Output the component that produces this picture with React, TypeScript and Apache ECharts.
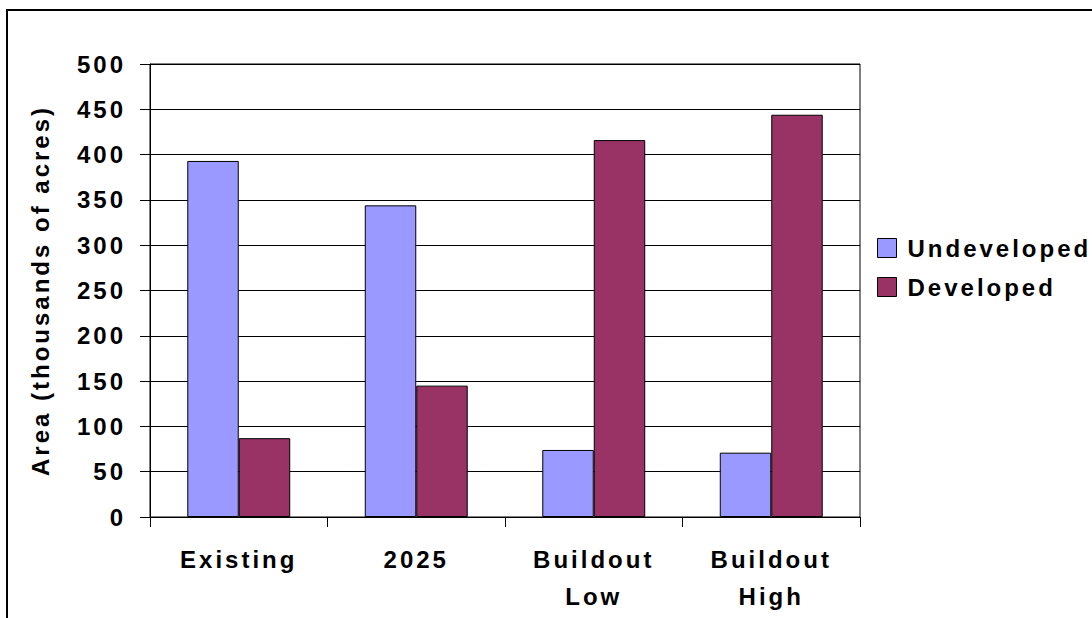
import React, { useEffect, useRef } from "react";
import * as echarts from "echarts";

const categories = ["Existing", "2025", "Buildout\nLow", "Buildout\nHigh"];
const undeveloped = [393, 344, 74, 71];
const developed = [87, 145, 416, 444];
const seriesNames = ["Undeveloped", "Developed"];
const yTicks = { min: 0, max: 500, interval: 50 };

export default function App() {
  const ref = useRef<HTMLDivElement>(null);
  useEffect(() => {
    if (!ref.current) return;
    const chart = echarts.init(ref.current, undefined, { renderer: "svg" });
    const font = "Arial, 'Liberation Sans', sans-serif";
    chart.setOption({
      animation: false,
      backgroundColor: "#fff",
      textStyle: { fontFamily: font },
      graphic: [
        {
          type: "rect",
          shape: { x: 7, y: 10, width: 1200, height: 800 },
          style: { fill: "none", stroke: "#000", lineWidth: 2 },
          z: -1,
        },
      ],
      grid: {
        left: 150,
        top: 64,
        right: 232,
        bottom: 101,
        show: true,
        borderColor: "#000",
        borderWidth: 1,
        containLabel: false,
      },
      legend: {
        orient: "vertical",
        left: 877,
        top: 236,
        padding: 0,
        itemWidth: 19,
        itemHeight: 19,
        itemGap: 15,
        icon: "rect",
        data: seriesNames,
        itemStyle: { borderColor: "#000", borderWidth: 1 },
        textStyle: {
          fontFamily: font,
          fontSize: 24,
          fontWeight: "bold",
          color: "#000",
          padding: [0, 0, 0, 6],
        },
      },
      xAxis: {
        type: "category",
        data: categories,
        boundaryGap: true,
        axisLine: { lineStyle: { color: "#000", width: 1 } },
        axisTick: { show: true, length: 10, lineStyle: { color: "#000" } },
        axisLabel: {
          color: "#000",
          fontFamily: font,
          fontSize: 24,
          fontWeight: "bold",
          lineHeight: 37,
          margin: 24,
          interval: 0,
        },
      },
      yAxis: {
        type: "value",
        min: yTicks.min,
        max: yTicks.max,
        interval: yTicks.interval,
        name: "Area (thousands of acres)",
        nameLocation: "middle",
        nameGap: 98,
        nameTextStyle: {
          color: "#000",
          fontFamily: font,
          fontSize: 24,
          fontWeight: "bold",
        },
        axisLine: { show: true, lineStyle: { color: "#000", width: 1 } },
        axisTick: { show: true, length: 10, lineStyle: { color: "#000" } },
        axisLabel: {
          color: "#000",
          fontFamily: font,
          fontSize: 24,
          fontWeight: "bold",
          margin: 24,
        },
        splitLine: { show: true, lineStyle: { color: "#000", width: 1 } },
      },
      series: [
        {
          name: seriesNames[0],
          type: "bar",
          data: undeveloped,
          barGap: "0%",
          barCategoryGap: "42%",
          itemStyle: { color: "#9999FF", borderColor: "#000", borderWidth: 1 },
        },
        {
          name: seriesNames[1],
          type: "bar",
          data: developed,
          barGap: "0%",
          barCategoryGap: "42%",
          itemStyle: { color: "#993366", borderColor: "#000", borderWidth: 1 },
        },
      ],
    });
    return () => chart.dispose();
  }, []);
  return (
    <>
      <style>{".chartbox svg text{letter-spacing:3px}"}</style>
      <div
        ref={ref}
        className="chartbox"
        style={{ position: "fixed", left: 0, top: 0, width: 1092, height: 618 }}
      />
    </>
  );
}
